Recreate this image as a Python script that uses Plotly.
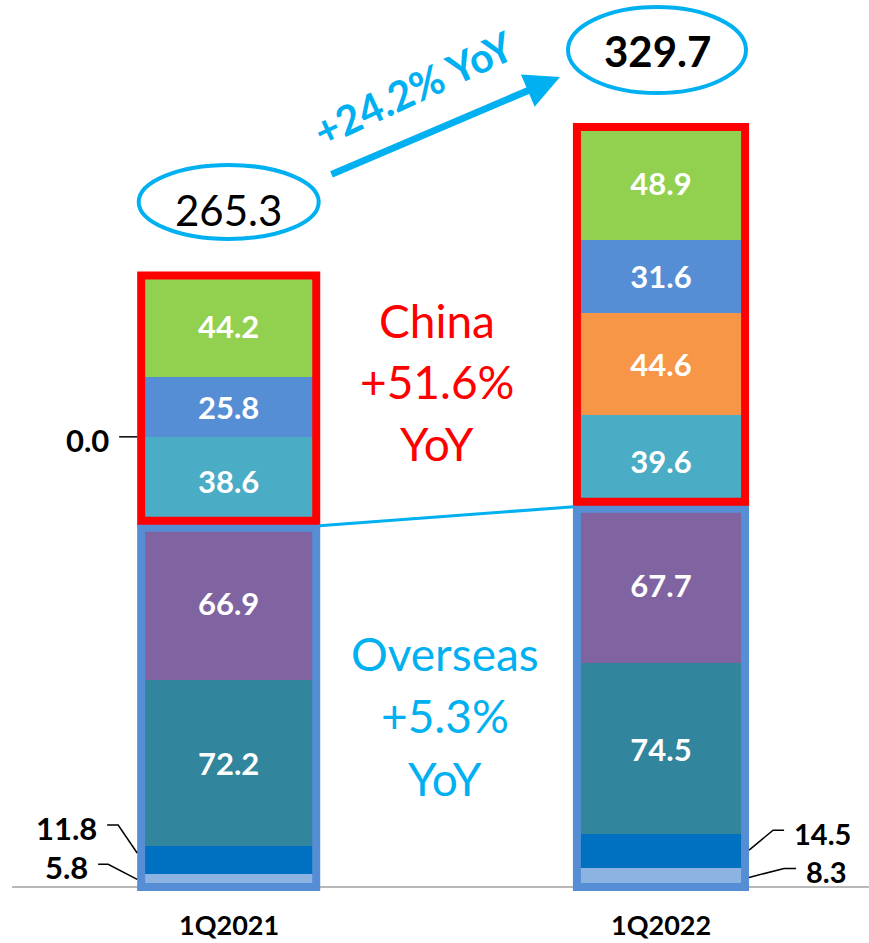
import plotly.graph_objects as go

# ---- data -----------------------------------------------------------------
categories = ["1Q2021", "1Q2022"]

# overseas segments (bottom to top)
overseas_light = [5.8, 8.3]
overseas_dark = [11.8, 14.5]
overseas_teal = [72.2, 74.5]
overseas_purple = [66.9, 67.7]

# China segments (bottom to top)
china_aqua = [38.6, 39.6]
china_orange = [0.0, 44.6]
china_blue = [25.8, 31.6]
china_green = [44.2, 48.9]

total_growth = "+24.2% YoY"
china_growth = ["China", "+51.6%", "YoY"]
overseas_growth = ["Overseas", "+5.3%", "YoY"]

# ---- styling ----------------------------------------------------------------
FONT = "Lato, 'Open Sans', sans-serif"
CYAN = "#00B0F0"
RED = "#FF0000"
GROUP_BLUE = "#558ED5"
BAR_WIDTHS = [0.405, 0.389]

W, H = 869, 943
BASE = 887          # pixel row of the zero line
C0 = 228.7          # pixel column of the first category
PXU = 432.3         # pixels per category step
PYU = 2.305         # pixels per value unit


def X(px):
    return (px - C0) / PXU


def Y(py):
    return (BASE - py) / PYU


def dx(p):
    return p / PXU


def dy(p):
    return p / PYU


overseas = [
    (overseas_light, "#8DB3E2", [False, False]),
    (overseas_dark, "#0070C0", [False, False]),
    (overseas_teal, "#31859C", [True, True]),
    (overseas_purple, "#8064A2", [True, True]),
]
china = [
    (china_aqua, "#4BACC6", [True, True]),
    (china_orange, "#F79646", [False, True]),
    (china_blue, "#558ED5", [True, True]),
    (china_green, "#92D050", [True, True]),
]

fig = go.Figure()
for values, color, inside in overseas + china:
    fig.add_trace(go.Bar(
        x=categories,
        y=values,
        width=BAR_WIDTHS,
        marker=dict(color=color, line=dict(width=0)),
        text=[f"{v:.1f}" if show else "" for v, show in zip(values, inside)],
        textposition="inside",
        insidetextanchor="middle",
        textangle=0,
        constraintext="none",
        textfont=dict(family=FONT, size=31, color="white", weight="bold"),
        hoverinfo="skip",
        showlegend=False,
    ))

shapes = []
annotations = []

ov_tot = [sum(s[0][i] for s in overseas) for i in range(2)]
cn_tot = [sum(s[0][i] for s in china) for i in range(2)]
totals = [o + c for o, c in zip(ov_tot, cn_tot)]

# group outlines
for i in range(2):
    xl = i - BAR_WIDTHS[i] / 2
    xr = i + BAR_WIDTHS[i] / 2
    shapes.append(dict(type="rect", xref="x", yref="y", x0=xl, x1=xr,
                       y0=0, y1=ov_tot[i] - dy(2),
                       line=dict(color=GROUP_BLUE, width=8), layer="above"))
    shapes.append(dict(type="rect", xref="x", yref="y", x0=xl, x1=xr,
                       y0=ov_tot[i] + dy(5), y1=totals[i],
                       line=dict(color=RED, width=8), layer="above"))

# baseline
shapes.append(dict(type="line", xref="paper", yref="y", x0=12 / W, x1=1,
                   y0=0, y1=0, line=dict(color="#A0A0A0", width=1.5),
                   layer="below"))

# overseas connector between the two bars
shapes.append(dict(type="line", xref="x", yref="y",
                   x0=0 + BAR_WIDTHS[0] / 2 + dx(3), y0=ov_tot[0],
                   x1=1 - BAR_WIDTHS[1] / 2 - dx(3), y1=ov_tot[1],
                   line=dict(color=CYAN, width=3), layer="above"))

# totals in ellipses
ellipses = [
    dict(rx=90, ry=37, lift=73.5, shift=0, bold=False, text_drop=8, size=42),
    dict(rx=89, ry=43, lift=77, shift=-4, bold=True, text_drop=1, size=42),
]
for i, e in enumerate(ellipses):
    cx = i + dx(e["shift"])
    cy = totals[i] + dy(e["lift"])
    shapes.append(dict(type="circle", xref="x", yref="y",
                       x0=cx - dx(e["rx"]), x1=cx + dx(e["rx"]),
                       y0=cy - dy(e["ry"]), y1=cy + dy(e["ry"]),
                       line=dict(color=CYAN, width=4)))
    annotations.append(dict(
        x=cx, y=cy - dy(e["text_drop"]), xref="x", yref="y",
        text=f"{totals[i]:.1f}", showarrow=False,
        font=dict(family=FONT, size=e["size"], color="black",
                  weight="bold" if e["bold"] else "normal")))

# growth arrow and label
annotations.append(dict(
    x=X(560), y=Y(77), ax=X(330), ay=Y(175), axref="x", ayref="y",
    xref="x", yref="y", text="", showarrow=True, arrowhead=2,
    arrowsize=1, arrowwidth=7, arrowcolor=CYAN, standoff=0))
annotations.append(dict(
    x=X(413), y=Y(88), xref="x", yref="y", text=total_growth,
    showarrow=False, textangle=-25,
    font=dict(family=FONT, size=41, color=CYAN, weight="bold")))

# regional growth labels
for line, py in zip(china_growth, [320, 381, 443]):
    annotations.append(dict(x=X(437), y=Y(py), xref="x", yref="y",
                            text=line, showarrow=False,
                            font=dict(family=FONT, size=46, color=RED)))
for line, py in zip(overseas_growth, [653, 715, 778]):
    annotations.append(dict(x=X(445), y=Y(py), xref="x", yref="y",
                            text=line, showarrow=False,
                            font=dict(family=FONT, size=46, color=CYAN)))

# category labels
for i, cat in enumerate(categories):
    annotations.append(dict(x=cat, y=Y(H), xref="x", yref="y", text=f"<b>{cat}</b>",
                            showarrow=False, yanchor="bottom", yshift=0,
                            font=dict(family=FONT, size=27, color="black")))


# small segments labelled outside with leader lines
def seg_bottom(i, series_list, idx):
    return sum(series_list[k][0][i] for k in range(idx))


stack = overseas + china
# (category, series index, side, end_rise, run, elbow_rise, tail, font size)
leaders = [
    (0, 1, "left", 7, 19, 35, 11, 31),
    (0, 0, "left", 1, 29, 16, 10, 31),
    (1, 1, "right", 1, 24, 21, 11, 29),
    (1, 0, "right", 0, 35, 9, 12, 29),
    (0, 5, "left", 0, 0, 0, 18, 31),
]
for i, k, side, end_rise, run, elbow_rise, tail, fsize in leaders:
    values = stack[k][0]
    mid = seg_bottom(i, stack, k) + values[i] / 2
    sgn = -1 if side == "left" else 1
    edge = i + sgn * (BAR_WIDTHS[i] / 2 + dx(4))
    end_y = mid + dy(end_rise)
    elbow_x = edge + sgn * dx(run)
    elbow_y = mid + dy(elbow_rise)
    start_x = elbow_x + sgn * dx(tail)
    shapes.append(dict(type="path", xref="x", yref="y",
                       path=f"M {edge},{end_y} L {elbow_x},{elbow_y} L {start_x},{elbow_y}",
                       line=dict(color="black", width=1.5)))
    annotations.append(dict(
        x=start_x + sgn * dx(8), y=elbow_y - dy(3), xref="x", yref="y",
        text=f"<b>{values[i]:.1f}</b>", showarrow=False,
        xanchor="right" if side == "left" else "left",
        font=dict(family=FONT, size=fsize, color="black")))

fig.update_layout(
    barmode="stack",
    width=W, height=H,
    margin=dict(l=0, r=0, t=0, b=0),
    paper_bgcolor="white", plot_bgcolor="white",
    xaxis=dict(visible=False, range=[X(0), X(W)], type="category",
               categoryorder="array", categoryarray=categories),
    yaxis=dict(visible=False, range=[Y(H), Y(0)]),
    shapes=shapes,
    annotations=annotations,
)

fig.write_html("out.html")
